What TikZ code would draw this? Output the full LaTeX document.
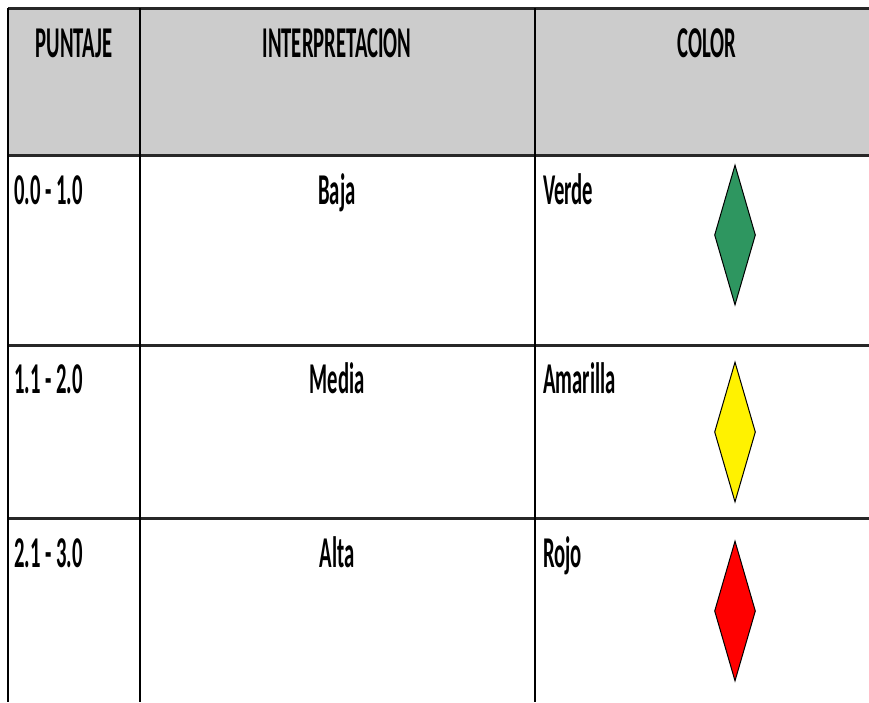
\documentclass[tikz,border=0pt]{standalone}
\usepackage{fontspec}
\setmainfont{Carlito}
\usetikzlibrary{shapes.geometric}
\definecolor{hdrgray}{RGB}{204,204,204}
\definecolor{vgreen}{RGB}{46,150,96}
\definecolor{linegray}{RGB}{40,40,40}
\newcommand{\cell}[1]{\scalebox{0.47}[1]{\fontsize{44}{44}\selectfont\bfseries #1}}
\begin{document}
\begin{tikzpicture}[x=1pt,y=-1pt,
  txt/.style={inner sep=0pt,anchor=base},
  txtl/.style={inner sep=0pt,anchor=base west},
  hline/.style={line width=3pt,draw=linegray},
  vline/.style={line width=1.8pt,draw=black},
  gem/.style={diamond,draw=black,line width=1pt,minimum width=41pt,minimum height=140pt,inner sep=0pt,aspect=0.3}]
\useasboundingbox (0,0) rectangle (869,702);
\fill[white] (0,0) rectangle (869,702);
\fill[hdrgray] (8,9) rectangle (869,155);
% horizontal lines
\coordinate (h0l) at (8,8.5);   \coordinate (h0r) at (869,8.5);
\coordinate (h1l) at (8,155);  \coordinate (h1r) at (869,155);
\coordinate (h2l) at (8,345);  \coordinate (h2r) at (869,345);
\coordinate (h3l) at (8,518);  \coordinate (h3r) at (869,518);
\draw[hline] (h0l) -- (h0r);
\draw[hline] (h1l) -- (h1r);
\draw[hline] (h2l) -- (h2r);
\draw[hline] (h3l) -- (h3r);
% vertical lines
\coordinate (v0t) at (8,8); \coordinate (v0b) at (8,702);
\coordinate (v1t) at (140,8); \coordinate (v1b) at (140,702);
\coordinate (v2t) at (535,8); \coordinate (v2b) at (535,702);
\draw[vline] (v0t) -- (v0b);
\draw[vline] (v1t) -- (v1b);
\draw[vline] (v2t) -- (v2b);
% header
\node[txt] (hp) at (74,57) {\cell{PUNTAJE}};
\node[txt] (hi) at (337,57) {\cell{INTERPRETACION}};
\node[txt] (hc) at (707,57) {\cell{COLOR}};
% row 1
\node[txtl] (p1) at (14,204) {\cell{0.0 - 1.0}};
\node[txt] (i1) at (337,204) {\cell{Baja}};
\node[txtl] (c1) at (543,204) {\cell{Verde}};
\node[gem,fill=vgreen] (d1) at (735,235) {};
% row 2
\node[txtl] (p2) at (14,393) {\cell{1.1 - 2.0}};
\node[txt] (i2) at (337,393) {\cell{Media}};
\node[txtl] (c2) at (543,393) {\cell{Amarilla}};
\node[gem,fill=yellow] (d2) at (735,432) {};
% row 3
\node[txtl] (p3) at (14,567) {\cell{2.1 - 3.0}};
\node[txt] (i3) at (337,567) {\cell{Alta}};
\node[txtl] (c3) at (543,567) {\cell{Rojo}};
\node[gem,fill=red] (d3) at (735,611) {};
\end{tikzpicture}
\end{document}
